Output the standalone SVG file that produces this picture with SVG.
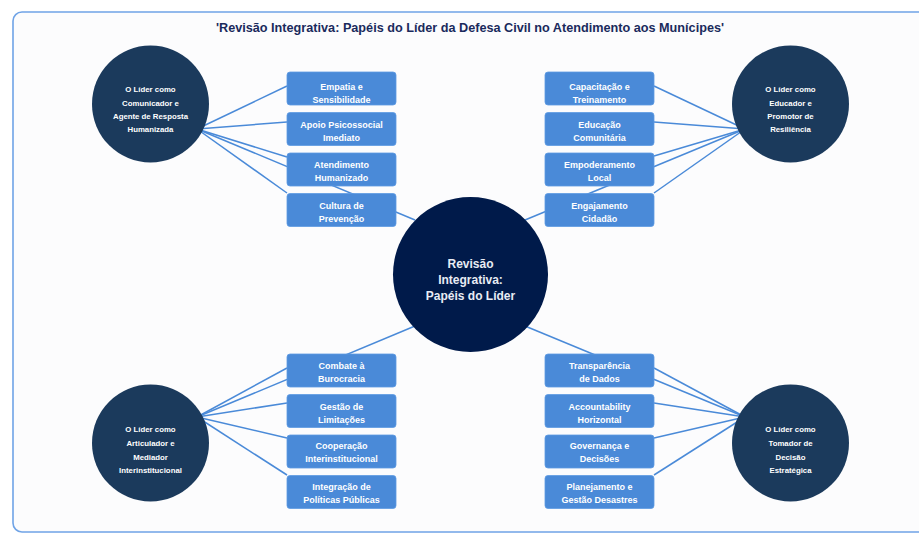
<svg xmlns="http://www.w3.org/2000/svg" width="919" height="534" viewBox="0 0 919 534">
<style>
.frame{fill:#fcfcfd;stroke:#6fa3e6;stroke-width:1.6}
.title{font-family:"Liberation Sans",Arial,sans-serif;font-weight:bold;font-size:13px;fill:#1a2a5c;text-anchor:middle}
.conn line{stroke:#4a8ad8;stroke-width:1.5;fill:none}
.role{fill:#1b3a5c}
.hub{fill:#001a4a}
.box{fill:#4a8ad8;stroke:#5e9ae2;stroke-width:0.8}
.bt{font-family:"Liberation Sans",Arial,sans-serif;font-weight:bold;font-size:9px;fill:#ffffff;text-anchor:middle}
.rt{font-family:"Liberation Sans",Arial,sans-serif;font-weight:bold;font-size:7.8px;fill:#ffffff;text-anchor:middle}
.ct{font-family:"Liberation Sans",Arial,sans-serif;font-weight:bold;font-size:12px;fill:#e8ecf4;text-anchor:middle}
</style>
<rect width="919" height="534" fill="#ffffff"/>
<rect class="frame" x="13" y="12" width="930" height="520" rx="9"/>
<text class="title" x="470" y="32" textLength="508" lengthAdjust="spacingAndGlyphs">'Revisão Integrativa: Papéis do Líder da Defesa Civil no Atendimento aos Munícipes'</text>

<g id="connectors" class="conn">
<line x1="197" y1="129" x2="287" y2="86"/>
<line x1="197" y1="129" x2="287" y2="122"/>
<line x1="197" y1="129" x2="287" y2="157"/>
<line x1="197" y1="129" x2="287" y2="193"/>
<line x1="197" y1="129" x2="415" y2="220"/>
<line x1="745" y1="129" x2="654" y2="86"/>
<line x1="745" y1="129" x2="654" y2="122"/>
<line x1="745" y1="129" x2="654" y2="156"/>
<line x1="745" y1="129" x2="654" y2="193"/>
<line x1="745" y1="129" x2="525" y2="220"/>
<line x1="197" y1="417" x2="287" y2="368"/>
<line x1="197" y1="417" x2="287" y2="403"/>
<line x1="197" y1="417" x2="287" y2="438"/>
<line x1="197" y1="417" x2="287" y2="475"/>
<line x1="197" y1="417" x2="415" y2="326"/>
<line x1="745" y1="417" x2="654" y2="368"/>
<line x1="745" y1="417" x2="654" y2="403"/>
<line x1="745" y1="417" x2="654" y2="438"/>
<line x1="745" y1="417" x2="654" y2="475"/>
<line x1="745" y1="417" x2="525" y2="326"/>
</g>

<g id="center">
<circle class="hub" cx="470.5" cy="274.5" r="77.5"/>
<text class="ct" x="470.5" y="268">Revisão</text>
<text class="ct" x="470.5" y="284">Integrativa:</text>
<text class="ct" x="470.5" y="300">Papéis do Líder</text>
</g>

<g id="role-comunicador">
<circle class="role" cx="150.5" cy="104" r="58.5"/>
<text class="rt" x="150.5" y="92">O Líder como</text>
<text class="rt" x="150.5" y="106">Comunicador e</text>
<text class="rt" x="150.5" y="119">Agente de Resposta</text>
<text class="rt" x="150.5" y="132">Humanizada</text>
</g>
<g id="role-educador">
<circle class="role" cx="790.5" cy="104" r="58.5"/>
<text class="rt" x="790.5" y="92">O Líder como</text>
<text class="rt" x="790.5" y="106">Educador e</text>
<text class="rt" x="790.5" y="119">Promotor de</text>
<text class="rt" x="790.5" y="132">Resiliência</text>
</g>
<g id="role-articulador">
<circle class="role" cx="150.5" cy="443" r="58.5"/>
<text class="rt" x="150.5" y="432">O Líder como</text>
<text class="rt" x="150.5" y="446">Articulador e</text>
<text class="rt" x="150.5" y="460">Mediador</text>
<text class="rt" x="150.5" y="473">Interinstitucional</text>
</g>
<g id="role-tomador">
<circle class="role" cx="790.5" cy="443" r="58.5"/>
<text class="rt" x="790.5" y="432">O Líder como</text>
<text class="rt" x="790.5" y="446">Tomador de</text>
<text class="rt" x="790.5" y="460">Decisão</text>
<text class="rt" x="790.5" y="473">Estratégica</text>
</g>

<g id="box-empatia"><rect class="box" x="287" y="72" width="109" height="33" rx="3"/><text class="bt" x="341.5" y="90">Empatia e</text><text class="bt" x="341.5" y="103">Sensibilidade</text></g>
<g id="box-apoio"><rect class="box" x="287" y="112.5" width="109" height="33" rx="3"/><text class="bt" x="341.5" y="128">Apoio Psicossocial</text><text class="bt" x="341.5" y="141">Imediato</text></g>
<g id="box-atendimento"><rect class="box" x="287" y="153" width="109" height="33" rx="3"/><text class="bt" x="341.5" y="168">Atendimento</text><text class="bt" x="341.5" y="181">Humanizado</text></g>
<g id="box-cultura"><rect class="box" x="287" y="193.5" width="109" height="33" rx="3"/><text class="bt" x="341.5" y="208.5">Cultura de</text><text class="bt" x="341.5" y="221.5">Prevenção</text></g>

<g id="box-capacitacao"><rect class="box" x="545" y="72" width="109" height="33" rx="3"/><text class="bt" x="599.5" y="90">Capacitação e</text><text class="bt" x="599.5" y="103">Treinamento</text></g>
<g id="box-educacao"><rect class="box" x="545" y="112.5" width="109" height="33" rx="3"/><text class="bt" x="599.5" y="128">Educação</text><text class="bt" x="599.5" y="141">Comunitária</text></g>
<g id="box-empoderamento"><rect class="box" x="545" y="153" width="109" height="33" rx="3"/><text class="bt" x="599.5" y="168">Empoderamento</text><text class="bt" x="599.5" y="181">Local</text></g>
<g id="box-engajamento"><rect class="box" x="545" y="193.5" width="109" height="33" rx="3"/><text class="bt" x="599.5" y="208.5">Engajamento</text><text class="bt" x="599.5" y="221.5">Cidadão</text></g>

<g id="box-combate"><rect class="box" x="287" y="354" width="109" height="33" rx="3"/><text class="bt" x="341.5" y="369">Combate à</text><text class="bt" x="341.5" y="382">Burocracia</text></g>
<g id="box-gestao"><rect class="box" x="287" y="394.5" width="109" height="33" rx="3"/><text class="bt" x="341.5" y="409.5">Gestão de</text><text class="bt" x="341.5" y="422.5">Limitações</text></g>
<g id="box-cooperacao"><rect class="box" x="287" y="435" width="109" height="33" rx="3"/><text class="bt" x="341.5" y="449">Cooperação</text><text class="bt" x="341.5" y="462">Interinstitucional</text></g>
<g id="box-integracao"><rect class="box" x="287" y="475.5" width="109" height="33" rx="3"/><text class="bt" x="341.5" y="489.5">Integração de</text><text class="bt" x="341.5" y="502.5">Políticas Públicas</text></g>

<g id="box-transparencia"><rect class="box" x="545" y="354" width="109" height="33" rx="3"/><text class="bt" x="599.5" y="369">Transparência</text><text class="bt" x="599.5" y="382">de Dados</text></g>
<g id="box-accountability"><rect class="box" x="545" y="394.5" width="109" height="33" rx="3"/><text class="bt" x="599.5" y="409.5">Accountability</text><text class="bt" x="599.5" y="422.5">Horizontal</text></g>
<g id="box-governanca"><rect class="box" x="545" y="435" width="109" height="33" rx="3"/><text class="bt" x="599.5" y="449">Governança e</text><text class="bt" x="599.5" y="462">Decisões</text></g>
<g id="box-planejamento"><rect class="box" x="545" y="475.5" width="109" height="33" rx="3"/><text class="bt" x="599.5" y="489.5">Planejamento e</text><text class="bt" x="599.5" y="502.5">Gestão Desastres</text></g>
</svg>
